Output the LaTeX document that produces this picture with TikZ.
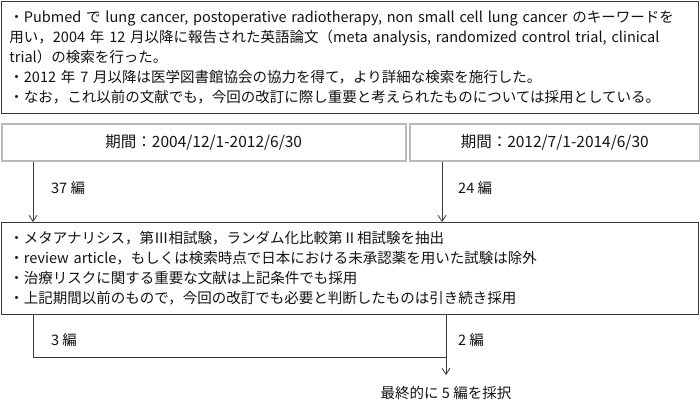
\documentclass[tikz,border=0pt]{standalone}
\usepackage{fontspec}
\setmainfont{Noto Sans CJK JP}
\usetikzlibrary{arrows.meta}
\definecolor{ink}{HTML}{141213}
\definecolor{frame}{HTML}{3A3A3A}
\definecolor{pale}{HTML}{B9B9B9}

\begin{document}
\begin{tikzpicture}[x=1bp,y=-1bp,
	every node/.style={text=ink,font=\fontsize{14.5bp}{20bp}\selectfont},
	textbox/.style={draw=frame,line width=0.9bp,anchor=north west,inner xsep=8bp,inner ysep=0pt,minimum width=697bp,text width=681bp,align=left},
	periodbox/.style={draw=pale,line width=1.5bp,anchor=north west,minimum height=37bp,font=\fontsize{15.5bp}{20bp}\selectfont},
	count/.style={anchor=west,inner sep=0pt},
	link/.style={draw=frame,line width=0.8bp},
	flow/.style={link,-{Straight Barb[length=6bp,width=8bp]}}]
		\useasboundingbox (0,0) rectangle (700,404);
		% search conditions
		\node[textbox,minimum height=112bp] (search) at (1,1) {%
			・Pubmed で lung cancer, postoperative radiotherapy, non small cell lung cancer のキーワードを\\
			用い，2004 年 12 月以降に報告された英語論文（meta analysis, randomized control trial, clinical\\
			trial）の検索を行った。\\
			・2012 年 7 月以降は医学図書館協会の協力を得て，より詳細な検索を施行した。\\
			・なお，これ以前の文献でも，今回の改訂に際し重要と考えられたものについては採用としている。};
		% the two periods
		\node[periodbox,minimum width=404bp] (period1) at (1,123) {期間：2004/12/1-2012/6/30};
		\node[periodbox,minimum width=290bp] (period2) at (409,123) {期間：2012/7/1-2014/6/30};
		% selection
		\node[textbox,minimum height=92bp] (filter) at (1,222) {%
			・メタアナリシス，第Ⅲ相試験，ランダム化比較第Ⅱ相試験を抽出\\
			・review article，もしくは検索時点で日本における未承認薬を用いた試験は除外\\
			・治療リスクに関する重要な文献は上記条件でも採用\\
			・上記期間以前のもので，今回の改訂でも必要と判断したものは引き続き採用};
		\node[anchor=north,inner ysep=11bp] (final) at (446,375) {最終的に 5 編を採択};

		\coordinate (in1) at ([xshift=32bp]period1.south west);
		\coordinate (in2) at ([xshift=33bp]period2.south west);
		\coordinate (out1) at (in1 |- filter.south);
		\coordinate (out2) at (final.north |- filter.south);
		\coordinate (join) at (446,357);
		\draw[flow] (in1) -- (in1 |- filter.north);
		\draw[flow] (in2) -- (in2 |- filter.north);
		\draw[link] (out1) |- (join);
		\draw[flow] (out2) -- (final.north);

		\node[count] (n37) at (51,188) {37 編};
		\node[count] (n24) at (458,188) {24 編};
		\node[count] (n3) at (51,340) {3 編};
		\node[count] (n2) at (458,340) {2 編};
		\end{tikzpicture}
\end{document}
